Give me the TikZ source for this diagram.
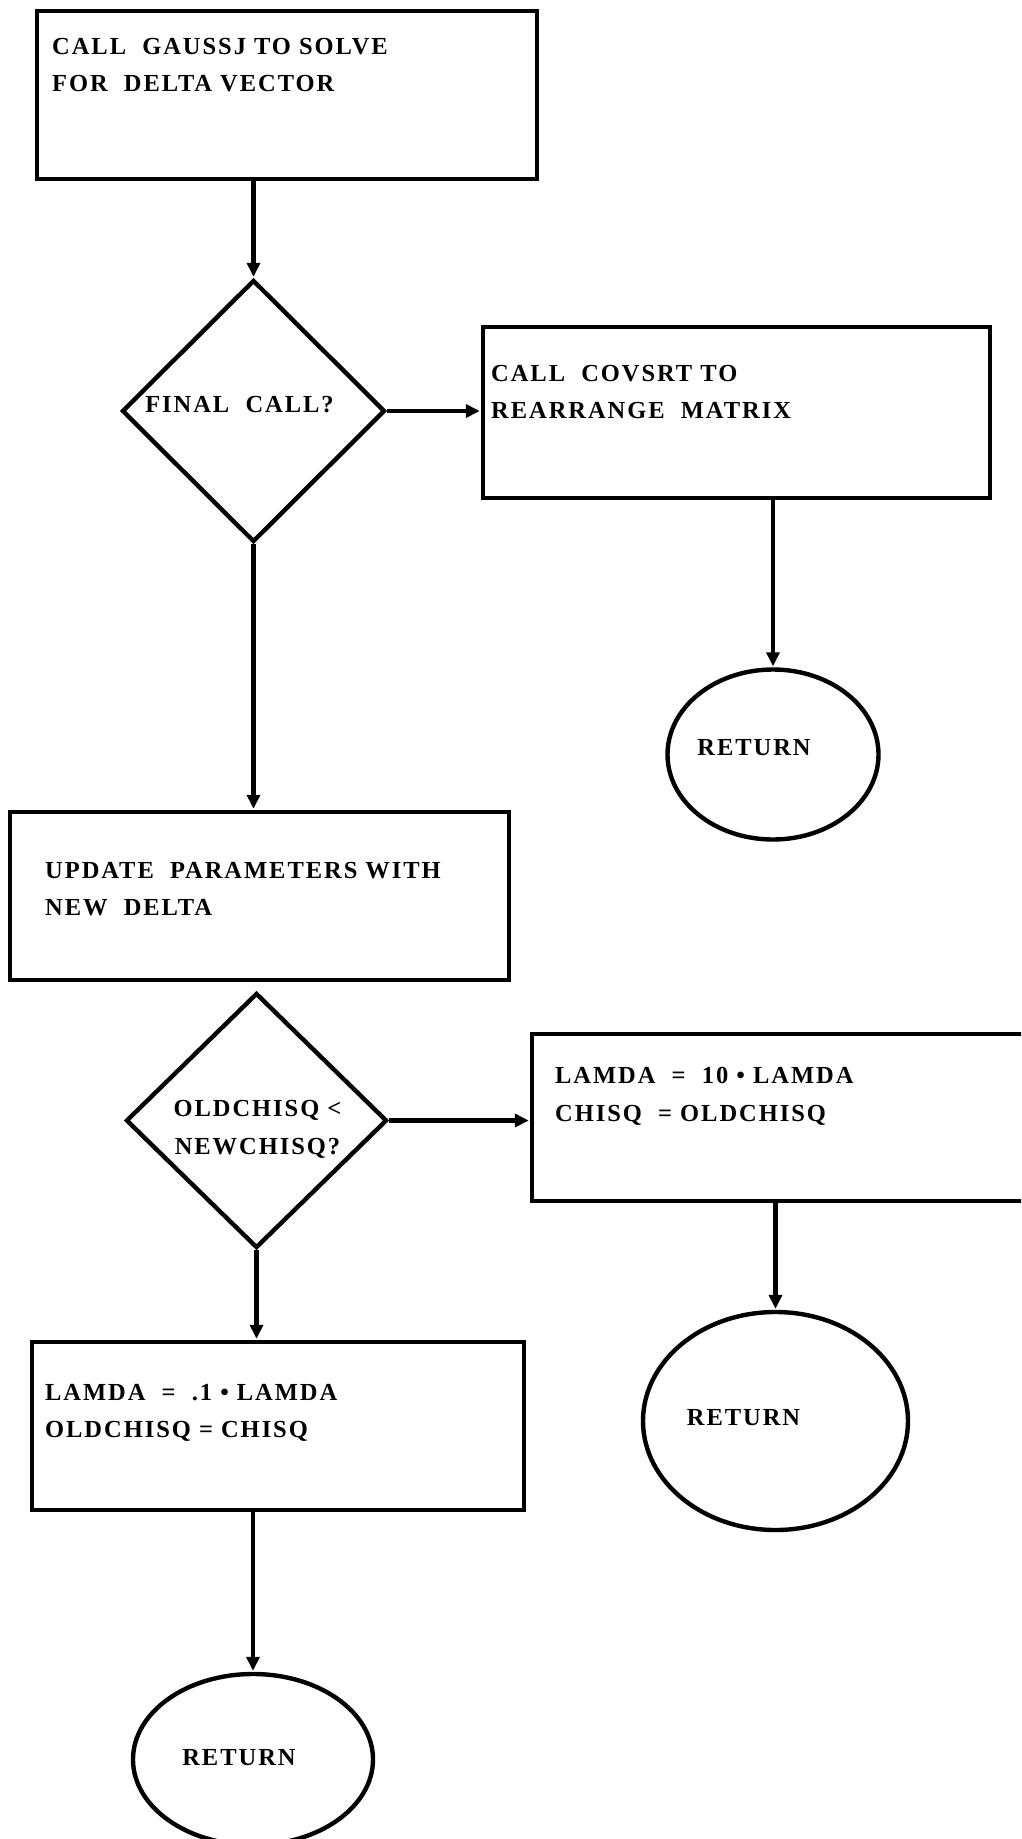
\documentclass[tikz,border=0pt]{standalone}
\usepackage{fontspec}
\setmainfont{Liberation Serif}[LetterSpace=8]
\usetikzlibrary{shapes.geometric,arrows.meta}
\begin{document}
\begin{tikzpicture}[x=1pt,y=-1pt,
  every node/.style={font=\fontsize{24.5}{37.5}\selectfont\bfseries},
  box/.style={draw, rectangle, line width=4.4pt, inner sep=0pt},
  txt/.style={anchor=north west, align=left, inner sep=0pt},
  decision/.style={draw, diamond, line width=4.4pt, inner sep=0pt},
  terminal/.style={draw, ellipse, line width=4.4pt, inner sep=0pt},
  flow/.style={line width=4.4pt, -{Triangle[length=14pt,width=13pt]}, shorten >=1pt},
]
% page frame
\path[use as bounding box] (0,0) rectangle (1021,1839);
\clip (0,0) rectangle (1021,1839);

% process boxes
\node[box, minimum width=500pt, minimum height=168pt] (b1) at (287,95) {};
\node[box, minimum width=507pt, minimum height=171pt] (b2) at (736.5,412.5) {};
\node[box, minimum width=499pt, minimum height=168pt] (b3) at (259.5,896) {};
\node[box, minimum width=498pt, minimum height=167pt] (b4) at (781,1117.5) {};
\node[box, minimum width=492pt, minimum height=168pt] (b5) at (278,1426) {};

% box texts
\node[txt] (t1) at (52,38) {CALL~~GAUSSJ TO SOLVE\\FOR~~DELTA VECTOR};
\node[txt] (t2) at (491,365) {CALL~~COVSRT TO\\REARRANGE~~MATRIX};
\node[txt] (t3) at (45,862) {UPDATE~~PARAMETERS WITH\\NEW~~DELTA};
\node[txt] (t4) at (555,1067) {LAMDA~~=~~10 • LAMDA\\CHISQ~~= OLDCHISQ};
\node[txt] (t5) at (45,1384) {LAMDA~~=~~.1 • LAMDA\\OLDCHISQ = CHISQ};

% decisions
\node[decision, minimum width=263pt, minimum height=262pt,
      label={[name=l1, xshift=-14pt, yshift=6pt]center:FINAL~~CALL?}] (d1) at (253.5,411) {};
\node[decision, minimum width=261pt, minimum height=255pt,
      label={[name=l2, align=center, xshift=1pt, yshift=-9pt]center:OLDCHISQ <\\NEWCHISQ?}] (d2) at (256.5,1120.5) {};

% terminals
\node[terminal, minimum width=211pt, minimum height=170pt,
      label={[name=r1, xshift=-19pt, yshift=7pt]center:RETURN}] (e1) at (773,754.5) {};
\node[terminal, minimum width=265pt, minimum height=218pt,
      label={[name=r2, xshift=-32pt, yshift=3pt]center:RETURN}] (e2) at (775.5,1421) {};
\node[terminal, minimum width=240pt, minimum height=171pt,
      label={[name=r3, xshift=-14pt, yshift=2pt]center:RETURN}] (e3) at (253,1759.5) {};

% connectors
\draw[flow] (d1.north |- b1.south) -- (d1.north);
\draw[flow] (d1.east) -- (d1.east -| b2.west);
\draw[flow] (e1.north |- b2.south) -- (e1.north);
\draw[flow] (d1.south) -- (d1.south |- b3.north);
\draw[flow] (d2.east) -- (d2.east -| b4.west);
\draw[flow] (e2.north |- b4.south) -- (e2.north);
\draw[flow] (d2.south) -- (d2.south |- b5.north);
\draw[flow] (e3.north |- b5.south) -- (e3.north);
\end{tikzpicture}
\end{document}
